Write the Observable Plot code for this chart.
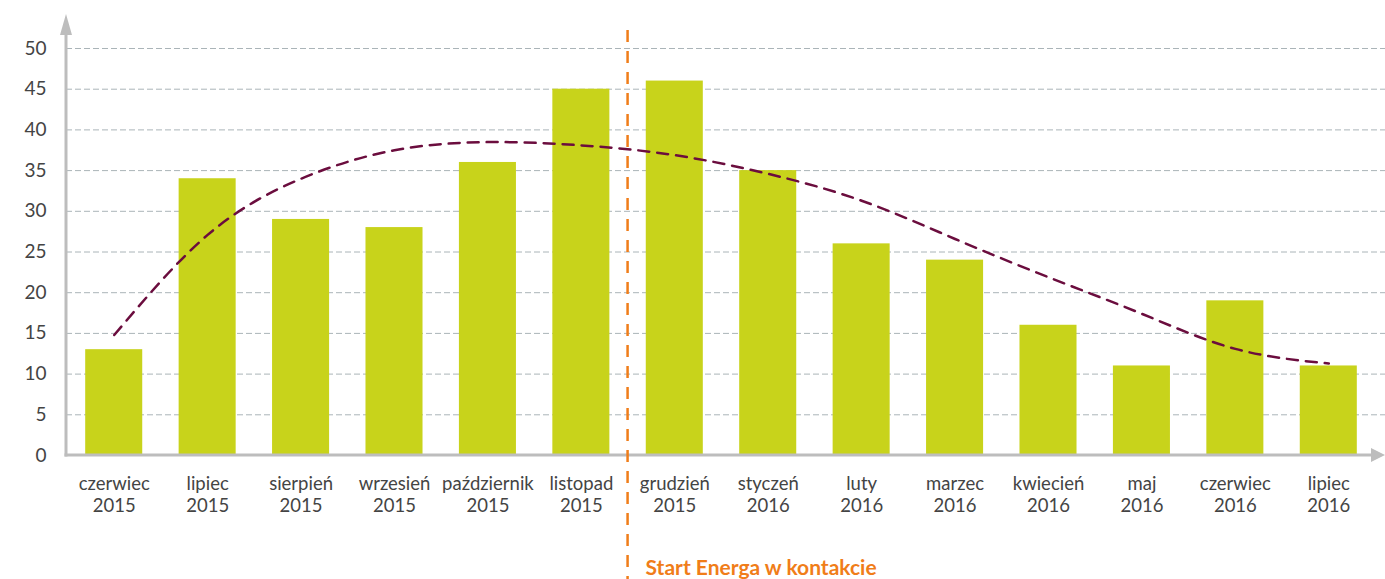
<!DOCTYPE html>
<html>
<head>
<meta charset="utf-8">
<script src="https://cdn.jsdelivr.net/npm/d3@7"></script>
<script src="https://cdn.jsdelivr.net/npm/@observablehq/plot@0.6"></script>
<style>
  html, body { margin: 0; padding: 0; background: #fff; }
  #chart { font-family: Lato, "Open Sans", sans-serif; }
</style>
</head>
<body>
<div id="chart"></div>
<script>
const months = ["czerwiec","lipiec","sierpień","wrzesień","październik","listopad","grudzień","styczeń","luty","marzec","kwiecień","maj","czerwiec","lipiec"];
const years = ["2015","2015","2015","2015","2015","2015","2015","2016","2016","2016","2016","2016","2016","2016"];
const values = [13,34,29,28,36,45,46,35,26,24,16,11,19,11];
const trend = [14.8,27.1,34,37.5,38.5,38.1,36.9,34.6,31.3,26.6,21.9,17.4,13.1,11.3];
const yTicks = [0,5,10,15,20,25,30,35,40,45,50];
const markerCategoryIndex = 6;
const markerLabel = "Start Energa w kontakcie";

const categories = months.map((m, i) => m + "\n" + years[i]);
const data = categories.map((c, i) => ({cat: c, value: values[i], trend: trend[i]}));

const decorations = (index, scales, vals, dims) => {
  const {width, height, marginLeft, marginTop} = dims;
  const x0 = marginLeft;
  const y0 = scales.y(0);
  const axisColor = "#bdbdbd";
  const g = d3.create("svg:g");
  // y axis with arrow
  g.append("line").attr("x1", x0).attr("x2", x0).attr("y1", y0 + 1.5).attr("y2", marginTop - 16)
    .attr("stroke", axisColor).attr("stroke-width", 3);
  g.append("path").attr("d", `M${x0 - 6},${marginTop - 13}L${x0},${marginTop - 34}L${x0 + 6},${marginTop - 13}Z`).attr("fill", axisColor);
  // x axis with arrow
  g.append("line").attr("x1", x0 - 1.5).attr("x2", width - 10).attr("y1", y0).attr("y2", y0)
    .attr("stroke", axisColor).attr("stroke-width", 3);
  g.append("path").attr("d", `M${width - 14},${y0 - 7}L${width},${y0}L${width - 14},${y0 + 7}Z`).attr("fill", axisColor);
  // orange marker line at the boundary between two bands
  const xm = scales.x(categories[markerCategoryIndex]);
  g.append("line").attr("x1", xm).attr("x2", xm).attr("y1", 30).attr("y2", height)
    .attr("stroke", "#f07d19").attr("stroke-width", 2.5).attr("stroke-dasharray", "12,9");
  g.append("text").attr("x", xm + 18).attr("y", height - 4).attr("text-anchor", "start")
    .attr("fill", "#f07d19").attr("font-weight", "bold").attr("font-size", 21)
    .attr("font-family", "Lato, sans-serif").text(markerLabel);
  return g.node();
};

const plot = Plot.plot({
  width: 1385,
  height: 579,
  marginLeft: 66,
  marginRight: 0,
  marginTop: 48,
  marginBottom: 124,
  style: {fontFamily: "Lato, sans-serif", color: "#444", background: "#fff"},
  x: {domain: categories, padding: 0, round: false, insetLeft: 1, insetRight: 10},
  y: {domain: [0, 50]},
  marks: [
    Plot.gridY(yTicks.filter(d => d > 0), {stroke: "#aab4b8", strokeOpacity: 1, strokeDasharray: "6,3", strokeWidth: 1}),
    Plot.barY(data, {x: "cat", y: "value", fill: "#c8d31b", insetLeft: 18.2, insetRight: 18.2}),
    Plot.line(data, {x: "cat", y: "trend", curve: "natural", stroke: "#6b0d3e", strokeWidth: 2.5, strokeDasharray: "11,8"}),
    Plot.axisY(yTicks, {tickSize: 0, tickPadding: 20, fontSize: 19, label: null}),
    Plot.axisX({tickSize: 0, tickPadding: 19, fontSize: 18.5, lineHeight: 1.19, label: null}),
    decorations
  ]
});
document.getElementById("chart").appendChild(plot);
</script>
</body>
</html>
